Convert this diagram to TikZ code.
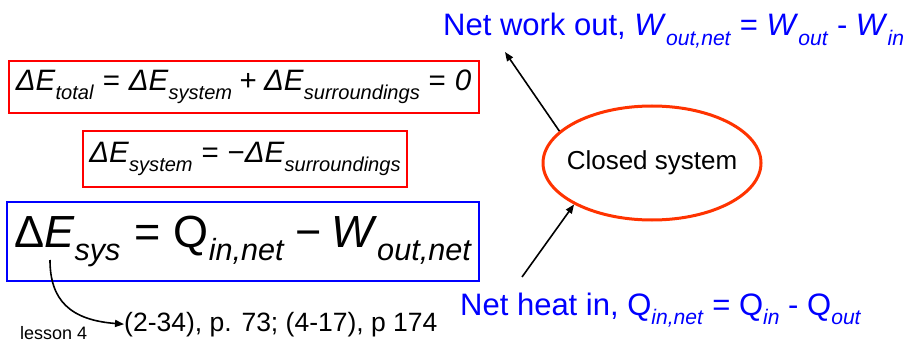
\documentclass[tikz,border=0pt]{standalone}
\usepackage{graphicx}
\usepackage{fontspec}
\setmainfont{Liberation Sans}
\usetikzlibrary{shapes.geometric,arrows.meta}
\definecolor{eqred}{HTML}{FF0000}
\definecolor{eqblue}{HTML}{0000FF}
\definecolor{ellred}{HTML}{FF3300}
\newcommand{\iv}[1]{\textit{#1}}
\newcommand{\sbx}[1]{\raisebox{-0.3em}{\scalebox{0.68}{\textit{#1}}}}
\newcommand{\eqs}{\hspace{0.3em}=\hspace{0.3em}}
\tikzset{
  eqbox/.style={draw=eqred, line width=2pt, inner sep=0pt, anchor=center},
  bluebox/.style={draw=eqblue, line width=2pt, inner sep=0pt, anchor=center},
  bluetext/.style={text=eqblue, inner sep=0pt, anchor=base west, font=\fontsize{31}{34}\selectfont},
  conn/.style={draw=black, line width=1.6pt, -{Triangle[length=9pt,width=7pt]}}
}
\begin{document}
\begin{tikzpicture}[x=1pt,y=-1pt]
\useasboundingbox[fill=white] (0,0) rectangle (909,342);

\node[eqbox, minimum width=470pt, minimum height=52pt, font=\fontsize{29.5}{32}\selectfont] (tot) at (243.5,87)
  {\iv{ΔE}\sbx{total}\eqs\iv{ΔE}\sbx{system}\hspace{0.25em}+\hspace{0.25em}\iv{ΔE}\sbx{surroundings}\eqs\iv{0}};

\node[eqbox, minimum width=324pt, minimum height=56pt, font=\fontsize{29.5}{32}\selectfont] (sys) at (245,159)
  {\iv{ΔE}\sbx{system}\eqs−\iv{ΔE}\sbx{surroundings}};

\node[bluebox, minimum width=472pt, minimum height=79pt, font=\fontsize{45}{50}\selectfont] (bal) at (243,241.5)
  {Δ\iv{E}\sbx{sys}\eqs Q\sbx{in,net}\hspace{0.25em}−\hspace{0.2em}\iv{W}\sbx{out,net}};

\node[draw=ellred, line width=3pt, ellipse, minimum width=218pt, minimum height=114pt, inner sep=0pt] (ell) at (652,163) {};
\node[inner sep=0pt, font=\fontsize{26}{30}\selectfont] (elltext) at (ell.center) {Closed system};

\node[bluetext] (work) at (443,36)
  {Net work out, \iv{W}\sbx{out,net} = \iv{W}\sbx{out} - \iv{W}\sbx{in}};

\node[bluetext] (heat) at (460,315)
  {Net heat in, Q\sbx{in,net} = Q\sbx{in} - Q\sbx{out}};

\node[inner sep=0pt, anchor=base west, font=\fontsize{26.5}{30}\selectfont] (ref) at (124,331)
  {(2-34), p. 73; (4-17), p 174};

\node[inner sep=0pt, anchor=base west, font=\fontsize{18}{20}\selectfont] (lesson) at (20,339)
  {lesson 4};

\coordinate (wtip) at (505,52);
\coordinate (hstart) at (522,277);
\coordinate (estart) at (50,260);

\draw[conn] (ell.161) -- (wtip);
\draw[conn] (hstart) -- (ell.208);
\draw[conn] (estart) .. controls (50,300) and (70,320) .. (ref.west);
\end{tikzpicture}
\end{document}
